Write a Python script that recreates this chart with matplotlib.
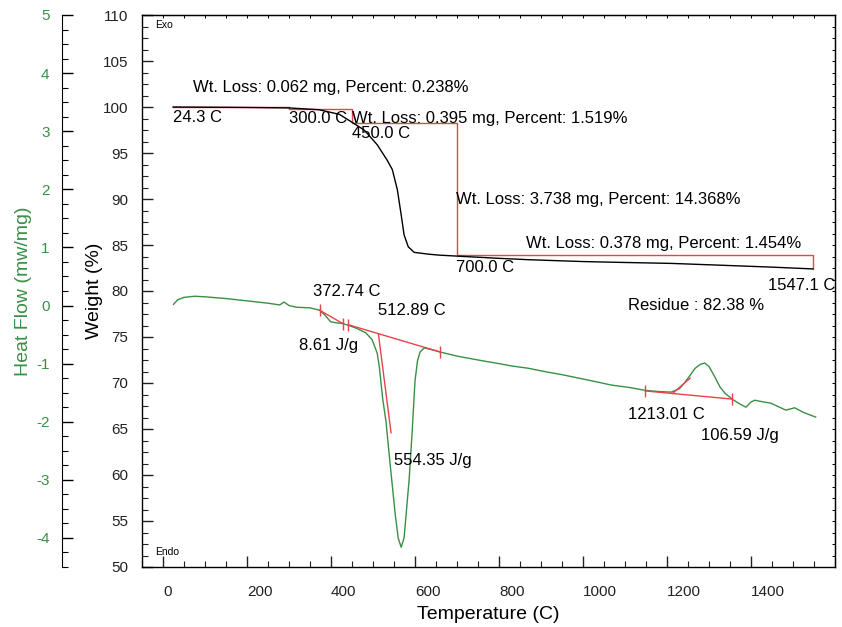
import matplotlib
matplotlib.use('Agg')
import matplotlib.pyplot as plt
import numpy as np
from matplotlib.ticker import MultipleLocator, NullFormatter

plt.rcParams['font.family'] = ['Liberation Sans', 'DejaVu Sans']
plt.rcParams['axes.unicode_minus'] = False

# TGA weight curve (C, %)
tga_temp = [24, 100, 200, 300, 372, 420, 448, 479, 510, 534, 546, 558, 567, 574,
            584, 598, 633, 657, 697, 800, 871, 1000, 1100, 1210, 1300, 1447, 1547]
tga_weight = [100.0, 99.98, 99.95, 99.9, 99.7, 99.2, 98.4, 97.5, 95.9, 94.2, 93.2, 91.0, 88.3, 86.1,
              84.8, 84.2, 84.0, 83.9, 83.8, 83.55, 83.4, 83.2, 83.1, 83.0, 82.85, 82.6, 82.4]

# DSC heat flow curve (C, mW/mg)
dsc_temp = [25, 35, 50, 75, 100, 150, 200, 250, 278, 288, 300, 318, 350, 372.74, 385, 399, 415,
            428, 441, 460, 483, 498, 510, 515, 523, 531, 539, 546, 553, 560, 567, 574, 580,
            586, 593, 600, 606, 612, 622, 640, 660, 700, 752, 800, 830, 870, 911, 950, 990,
            1030, 1068, 1110, 1148, 1180, 1210, 1230, 1243, 1255, 1267, 1280, 1290, 1300,
            1314, 1326, 1338, 1355, 1370, 1388, 1400, 1409, 1430, 1447, 1465, 1483, 1504,
            1525, 1554]
dsc_flow = [0.02, 0.10, 0.14, 0.16, 0.15, 0.12, 0.08, 0.04, 0.01, 0.06, 0.0, -0.03, -0.04, -0.08,
            -0.16, -0.28, -0.30, -0.31, -0.34, -0.39, -0.47, -0.59, -0.82, -1.05, -1.6, -2.0,
            -2.6, -3.1, -3.6, -4.0, -4.16, -4.0, -3.5, -3.0, -2.2, -1.3, -0.95, -0.80, -0.73,
            -0.76, -0.80, -0.87, -0.94, -1.00, -1.04, -1.08, -1.14, -1.19, -1.25, -1.31, -1.37,
            -1.41, -1.46, -1.48, -1.49, -1.43, -1.32, -1.20, -1.08, -1.01, -0.99, -1.05, -1.23,
            -1.40, -1.51, -1.61, -1.68, -1.75, -1.66, -1.63, -1.66, -1.68, -1.74, -1.80, -1.76,
            -1.84, -1.92]

# weight-loss steps
step_temp = [24.3, 300.0, 450.0, 700.0, 1547.1]
step_loss_pct = [0.238, 1.519, 14.368, 1.454]
step_loss_mg = [0.062, 0.395, 3.738, 0.378]
residue = 82.38

# DSC analysis lines (temp, heat flow)
base1_t, base1_h = [372.74, 428], [-0.08, -0.31]
base2_t, base2_h = [441, 660], [-0.33, -0.80]
tang2_t, tang2_h = [512.89, 543], [-0.49, -2.19]
base3_t, base3_h = [1148, 1355], [-1.47, -1.61]
tang3_t, tang3_h = [1213.01, 1255], [-1.514, -1.25]
mark_t = [372.74, 428, 441, 660, 1148, 1355]
mark_h = [-0.08, -0.31, -0.33, -0.80, -1.47, -1.61]

green = '#3a8f45'
red = '#e8424a'

fig = plt.figure(figsize=(8.42, 6.27), dpi=100)
ax = fig.add_axes([142 / 842, 60 / 627, 693 / 842, 552 / 627])
ax2 = ax.twinx()

# weight axis
ax.plot(tga_temp, tga_weight, color='black', linewidth=1.0, zorder=3)
w = [100.0]
for p in step_loss_pct:
    w.append(w[-1] - p)
sx, sy = [], []
for i in range(4):
    sx += [step_temp[i], step_temp[i + 1], step_temp[i + 1]]
    sy += [w[i], w[i], w[i + 1]]
ax.plot(sx, sy, color=red, linewidth=1.0, zorder=2)

ax.set_xlim(-50, 1600)
ax.set_ylim(50, 110)
ax.xaxis.set_major_locator(MultipleLocator(200))
ax.xaxis.set_minor_locator(MultipleLocator(50))
ax.yaxis.set_major_locator(MultipleLocator(5))
ax.yaxis.set_minor_locator(MultipleLocator(1.25))
ax.tick_params(which='both', direction='in', labelsize=11, colors='#222222', right=False, top=False)
ax.tick_params(which='major', length=8, width=1)
ax.tick_params(which='minor', length=4, width=0.8)
ax.tick_params(axis='x', pad=13)
ax.tick_params(axis='y', pad=10)
ticks = list(range(0, 1401, 200))
ax.set_xticks(ticks)
ax.set_xticklabels([str(t) for t in ticks], ha='left')
ax.set_xlabel('Temperature (C)', fontsize=14, labelpad=5)
ax.set_ylabel('Weight (%)', fontsize=14, labelpad=0)

top = ax.secondary_xaxis('top')
top.set_xticks(np.arange(-50, 1601, 50))
top.xaxis.set_major_formatter(NullFormatter())
top.tick_params(direction='in', length=2.5, width=0.7)
right = ax.secondary_yaxis('right')
right.set_yticks(np.arange(50, 110.1, 1.25))
right.yaxis.set_major_formatter(NullFormatter())
right.tick_params(direction='in', length=2.5, width=0.7)

# heat flow axis
ax2.plot(dsc_temp, dsc_flow, color=green, linewidth=1.0, zorder=3)
for tx, hy in [(base1_t, base1_h), (base2_t, base2_h), (tang2_t, tang2_h),
               (base3_t, base3_h), (tang3_t, tang3_h)]:
    ax2.plot(tx, hy, color=red, linewidth=1.0, zorder=4)
ax2.plot(mark_t, mark_h, linestyle='none', marker='|', markersize=8, color=red, zorder=4)
ax2.set_ylim(-4.5, 5)
ax2.spines['right'].set_visible(False)
ax2.spines['top'].set_visible(False)
ax2.spines['bottom'].set_visible(False)
ax2.spines['left'].set_visible(True)
ax2.spines['left'].set_position(('axes', -80 / 693))
ax2.yaxis.set_ticks_position('left')
ax2.yaxis.set_label_position('left')
ax2.yaxis.set_major_locator(MultipleLocator(1))
ax2.yaxis.set_minor_locator(MultipleLocator(0.25))
ax2.tick_params(which='both', direction='in', labelsize=11, labelcolor=green, pad=9)
ax2.tick_params(which='major', length=8, width=1)
ax2.tick_params(which='minor', length=4, width=0.8)
ax2.set_ylabel('Heat Flow (mw/mg)', fontsize=14, color=green, labelpad=3)

for sp in ax.spines.values():
    sp.set_linewidth(1.0)

# annotations
fs = 12
ax.text(71, 102.07, 'Wt. Loss: %.3f mg, Percent: %.3f%%' % (step_loss_mg[0], step_loss_pct[0]), fontsize=fs, va='center')
ax.text(24, 98.9, '%.1f C' % step_temp[0], fontsize=fs, va='center')
ax.text(301, 98.8, '%.1f C' % step_temp[1], fontsize=fs, va='center')
ax.text(451, 98.8, 'Wt. Loss: %.3f mg, Percent: %.3f%%' % (step_loss_mg[1], step_loss_pct[1]), fontsize=fs, va='center')
ax.text(451, 97.07, '%.1f C' % step_temp[2], fontsize=fs, va='center')
ax.text(697, 89.9, 'Wt. Loss: %.3f mg, Percent: %.3f%%' % (step_loss_mg[2], step_loss_pct[2]), fontsize=fs, va='center')
ax.text(864, 85.2, 'Wt. Loss: %.3f mg, Percent: %.3f%%' % (step_loss_mg[3], step_loss_pct[3]), fontsize=fs, va='center')
ax.text(697, 82.6, '%.1f C' % step_temp[3], fontsize=fs, va='center')
ax.text(1440, 80.65, '%.1f C' % step_temp[4], fontsize=fs, va='center')
ax.text(1106, 78.4, 'Residue : %.2f %%' % residue, fontsize=fs, va='center')

ax2.text(356, 0.25, '372.74 C', fontsize=fs, va='center')
ax2.text(512, -0.08, '512.89 C', fontsize=fs, va='center')
ax2.text(323, -0.68, '8.61 J/g', fontsize=fs, va='center')
ax2.text(550, -2.66, '554.35 J/g', fontsize=fs, va='center')
ax2.text(1106, -1.87, '1213.01 C', fontsize=fs, va='center')
ax2.text(1281, -2.23, '106.59 J/g', fontsize=fs, va='center')

ax.text(0.019, 0.982, 'Exo', transform=ax.transAxes, fontsize=7.5, va='center')
ax.text(0.019, 0.027, 'Endo', transform=ax.transAxes, fontsize=7.5, va='center')

fig.savefig('out.png', dpi=100)
